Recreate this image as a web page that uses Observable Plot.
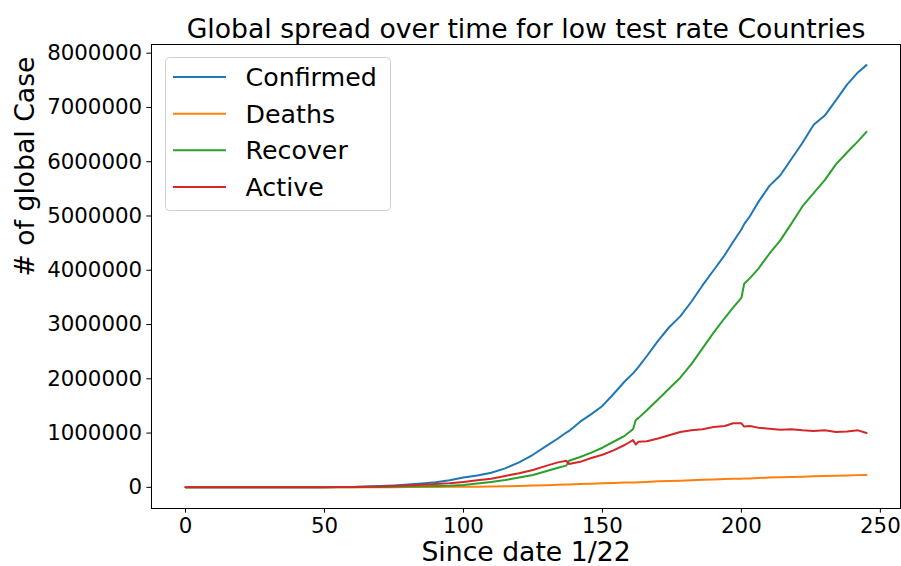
<!DOCTYPE html>
<html>
<head>
<meta charset="utf-8">
<script src="https://cdn.jsdelivr.net/npm/d3@7"></script>
<script src="https://cdn.jsdelivr.net/npm/@observablehq/plot@0.6"></script>
<style>
  html, body { margin: 0; padding: 0; background: #fff; }
  #chart { width: 901px; height: 566px; }
</style>
</head>
<body>
<div id="chart"></div>
<script>
const titleText = "Global spread over time for low test rate Countries";
const xLabel = "Since date 1/22";
const yLabel = "# of global Case";

const seriesNames = ["Confirmed", "Deaths", "Recover", "Active"];
const seriesColors = ["#1f77b4", "#ff7f0e", "#2ca02c", "#d62728"];

const xTicks = [0, 50, 100, 150, 200, 250];
const yTicks = [0, 1000000, 2000000, 3000000, 4000000, 5000000, 6000000, 7000000, 8000000];

const days = [0, 10, 20, 30, 40, 50, 55, 60, 65, 70, 75, 80, 85, 90, 95, 100, 105, 110, 115, 120, 125, 130, 134, 137, 138, 142, 146, 150, 154, 158, 161, 162, 163, 166, 170, 174, 178, 182, 186, 190, 194, 197, 200, 201, 203, 206, 210, 214, 218, 222, 226, 230, 234, 238, 242, 245];

const confirmed = [0, 0, 0, 1000, 2000, 3000, 5000, 8000, 14000, 25000, 35000, 50000, 70000, 95000, 130000, 180000, 220000, 270000, 350000, 460000, 600000, 770000, 900000, 1010000, 1040000, 1210000, 1350000, 1500000, 1720000, 1950000, 2100000, 2160000, 2220000, 2420000, 2700000, 2950000, 3150000, 3420000, 3720000, 4000000, 4280000, 4520000, 4750000, 4850000, 4990000, 5250000, 5550000, 5750000, 6050000, 6350000, 6680000, 6850000, 7130000, 7420000, 7650000, 7780000];

const deaths = [0, 0, 0, 0, 0, 0, 0, 500, 1000, 2000, 3000, 4000, 5500, 7000, 8500, 10000, 12500, 15000, 20000, 25000, 32000, 40000, 46000, 51000, 53000, 60000, 67000, 75000, 81000, 87000, 90000, 91000, 93000, 100000, 110000, 116000, 122000, 130000, 138000, 145000, 152000, 157000, 160000, 162000, 165000, 171000, 180000, 186000, 192000, 197000, 203000, 210000, 215000, 220000, 225000, 228000];

const recover = [0, 0, 0, 0, 0, 0, 0, 2000, 4000, 7000, 10000, 14000, 18000, 24000, 30000, 45000, 70000, 100000, 135000, 180000, 228000, 300000, 360000, 400000, 490000, 560000, 640000, 730000, 840000, 950000, 1070000, 1240000, 1280000, 1420000, 1620000, 1820000, 2020000, 2270000, 2560000, 2850000, 3120000, 3310000, 3490000, 3750000, 3850000, 4020000, 4300000, 4550000, 4860000, 5180000, 5420000, 5660000, 5950000, 6170000, 6380000, 6550000];

const active = [0, 0, 0, 1000, 2000, 3000, 5000, 5000, 9000, 16000, 23000, 32000, 46000, 60000, 74000, 100000, 130000, 160000, 210000, 260000, 320000, 400000, 460000, 490000, 430000, 470000, 540000, 600000, 680000, 780000, 870000, 790000, 840000, 850000, 900000, 960000, 1020000, 1050000, 1070000, 1110000, 1130000, 1180000, 1180000, 1120000, 1130000, 1100000, 1080000, 1060000, 1070000, 1050000, 1040000, 1050000, 1020000, 1030000, 1050000, 1000000];

const seriesValues = [confirmed, deaths, recover, active];

const data = seriesNames.flatMap((name, k) =>
  days.map((d, i) => ({series: name, day: d, value: seriesValues[k][i]}))
);

const chart = Plot.plot({
  width: 901,
  height: 566,
  marginTop: 44,
  marginBottom: 58,
  marginLeft: 151,
  marginRight: 1,
  style: {fontFamily: "'DejaVu Sans', sans-serif", fontSize: "21.33px", color: "#000", background: "#fff", overflow: "visible"},
  x: {domain: [-12.25, 257.25]},
  y: {domain: [-390000, 8160000]},
  color: {domain: seriesNames, range: seriesColors},
  marks: [
    Plot.axisX({ticks: xTicks, tickSize: 4.67, tickPadding: 4.67, label: null, tickFormat: d => String(d), stroke: "#000"}),
    Plot.axisY({ticks: yTicks, tickSize: 4.67, tickPadding: 4.67, label: null, tickFormat: d => String(d), stroke: "#000"}),
    Plot.line(data, {x: "day", y: "value", stroke: "series", z: "series", strokeWidth: 2}),
    Plot.frame({stroke: "#000", strokeWidth: 1}),
    Plot.text([titleText], {text: d => d, frameAnchor: "top", lineAnchor: "bottom", dy: -7, fontSize: 26.67}),
    Plot.text([xLabel], {text: d => d, frameAnchor: "bottom", lineAnchor: "bottom", dy: 52, fontSize: 26.67}),
    Plot.text([yLabel], {text: d => d, frameAnchor: "left", lineAnchor: "bottom", rotate: -90, dx: -118, fontSize: 26.67})
  ]
});

document.getElementById("chart").appendChild(chart);

// Legend (matplotlib-style box, upper left)
const svg = d3.select(chart);
const lg = svg.append("g")
  .attr("font-family", "'DejaVu Sans', sans-serif")
  .attr("text-anchor", "start");
lg.append("rect")
  .attr("x", 165.5).attr("y", 57.5)
  .attr("width", 225).attr("height", 153)
  .attr("rx", 4).attr("ry", 4)
  .attr("fill", "#fff").attr("fill-opacity", 0.8)
  .attr("stroke", "#d0d0d0").attr("stroke-width", 1);
seriesNames.forEach((name, i) => {
  const cy = 77 + 36.67 * i;
  lg.append("line")
    .attr("x1", 173).attr("x2", 226)
    .attr("y1", cy).attr("y2", cy)
    .attr("stroke", seriesColors[i]).attr("stroke-width", 2);
  lg.append("text")
    .attr("x", 245.5).attr("y", cy + 9)
    .attr("text-anchor", "start")
    .attr("font-size", "25.3px").attr("fill", "#000")
    .text(name);
});
</script>
</body>
</html>
